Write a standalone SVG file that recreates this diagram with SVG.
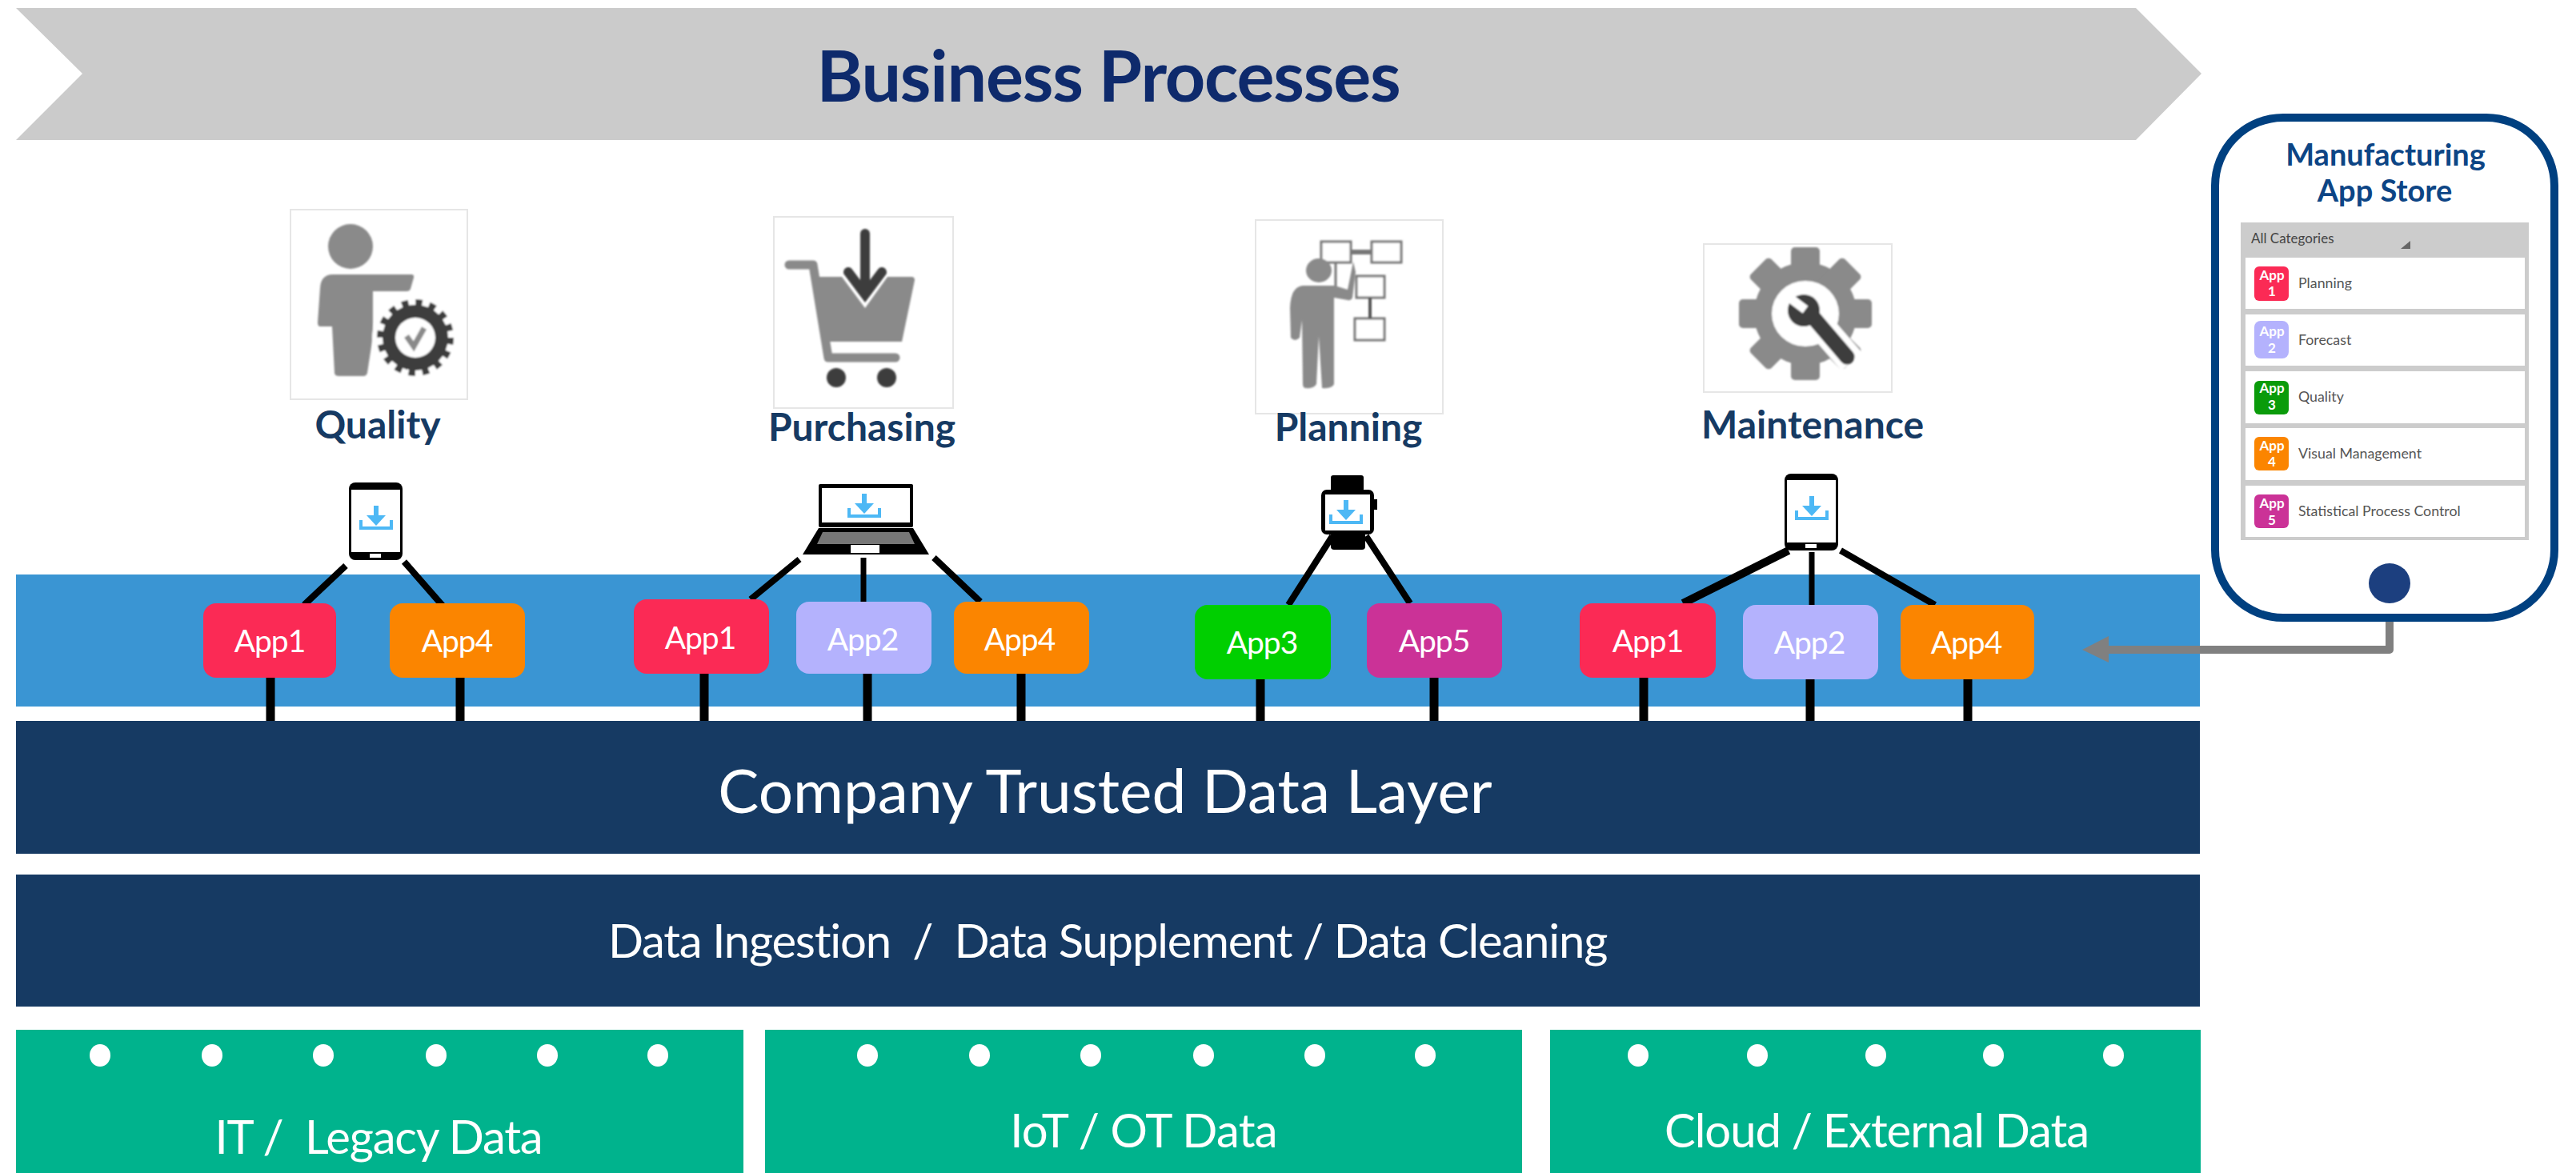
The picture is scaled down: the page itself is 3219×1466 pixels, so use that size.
<svg xmlns="http://www.w3.org/2000/svg" xmlns:xlink="http://www.w3.org/1999/xlink" width="3219" height="1466" viewBox="0 0 3219 1466">
<style>
text{font-family:Lato,"Open Sans","Liberation Sans",sans-serif}
.c{text-anchor:middle}
.band{fill:#163a63}
.green{fill:#00b38d}
.dot{fill:#fff}
.wt{fill:#fff}
.lbl{font-size:48px;font-weight:700;fill:#163a63;text-anchor:middle}
.card{fill:#fff;stroke:#e6e6e6;stroke-width:2}
.g{fill:#8a8a8a}
.d{fill:#3d3d3d}
.app{font-size:39px;letter-spacing:-1px;fill:#fff;text-anchor:middle}
.conn{stroke:#000;fill:none}
.row{fill:#fff}
.ri{font-size:17px;font-weight:700;fill:#fff;text-anchor:middle}
.rl{font-size:17.8px;fill:#555}
.box{fill:#fff;stroke:#777;stroke-width:3}
.dev{fill:#000}
</style>
<defs>
<filter id="soft" x="-5%" y="-5%" width="110%" height="110%"><feGaussianBlur stdDeviation="0.9"/></filter>
<g id="dl">
<path d="M21 0V22" stroke="#4db8f5" stroke-width="6" fill="none"/>
<path d="M9 12L21 25L33 12Z" fill="#4db8f5"/>
<path d="M2 18V28H40V18" stroke="#4db8f5" stroke-width="4" fill="none"/>
</g>
</defs>
<rect width="3219" height="1466" fill="#fff"/>

<g id="business-processes">
<polygon points="20,10 2669,10 2751,92 2669,175 20,175 103,92" fill="#cbcbcb"/>
<text x="1385" y="127" class="c" font-size="88" font-weight="700" fill="#0e2a6c" letter-spacing="-1.2">Business Processes</text>
</g>

<g id="app-layer"><rect x="20" y="718" width="2729" height="165" fill="#3a95d3"/></g>
<g id="trusted-data-layer"><rect class="band" x="20" y="901" width="2729" height="166"/>
<text x="1381" y="1016" class="c wt" font-size="76.5">Company Trusted Data Layer</text></g>
<g id="data-ingestion"><rect class="band" x="20" y="1093" width="2729" height="165"/>
<text x="1384" y="1197" class="c wt" font-size="58" letter-spacing="-1.2" xml:space="preserve">Data Ingestion  /  Data Supplement / Data Cleaning</text></g>

<g id="it-legacy"><rect class="green" x="20" y="1287" width="909" height="179"/>
<ellipse class="dot" cx="125" cy="1319" rx="13" ry="14"/><ellipse class="dot" cx="265" cy="1319" rx="13" ry="14"/><ellipse class="dot" cx="404" cy="1319" rx="13" ry="14"/><ellipse class="dot" cx="545" cy="1319" rx="13" ry="14"/><ellipse class="dot" cx="684" cy="1319" rx="13" ry="14"/><ellipse class="dot" cx="822" cy="1319" rx="13" ry="14"/>
<text x="473" y="1442" class="c wt" font-size="58" letter-spacing="-1.2" xml:space="preserve">IT /  Legacy Data</text></g>
<g id="iot-ot"><rect class="green" x="956" y="1287" width="946" height="179"/>
<ellipse class="dot" cx="1084" cy="1319" rx="13" ry="14"/><ellipse class="dot" cx="1224" cy="1319" rx="13" ry="14"/><ellipse class="dot" cx="1363" cy="1319" rx="13" ry="14"/><ellipse class="dot" cx="1504" cy="1319" rx="13" ry="14"/><ellipse class="dot" cx="1643" cy="1319" rx="13" ry="14"/><ellipse class="dot" cx="1781" cy="1319" rx="13" ry="14"/>
<text x="1429" y="1434" class="c wt" font-size="58" letter-spacing="-0.7">IoT / OT Data</text></g>
<g id="cloud-external"><rect class="green" x="1937" y="1287" width="813" height="179"/>
<ellipse class="dot" cx="2047" cy="1319" rx="13" ry="14"/><ellipse class="dot" cx="2196" cy="1319" rx="13" ry="14"/><ellipse class="dot" cx="2344" cy="1319" rx="13" ry="14"/><ellipse class="dot" cx="2491" cy="1319" rx="13" ry="14"/><ellipse class="dot" cx="2641" cy="1319" rx="13" ry="14"/>
<text x="2345" y="1434" class="c wt" font-size="58" letter-spacing="-1.05">Cloud / External Data</text></g>

<g id="connectors">
<g class="conn" stroke-width="11">
<path d="M338 847V901M575 847V901M880 842V901M1084 842V901M1276 842V901M1575 849V901M1792 847V901M2054 847V901M2262 849V901M2459 849V901"/>
</g>
<g class="conn" stroke-width="8">
<path d="M432 707L380 756M505 702L554 758M999 699L938 749M1167 697L1225 752M1665 670L1610 756M1707 670L1762 754M2300 688L2418 756"/>
<path d="M2235 688L2103 754" stroke-width="10"/>
<path d="M1079 697V752M2264 690V756" stroke-width="7"/>
</g>
<path d="M2986 777V812H2630" fill="none" stroke="#808080" stroke-width="10" stroke-linejoin="round"/>
<polygon points="2602,812 2635,795 2635,828" fill="#808080"/>
</g>

<g id="quality">
<rect class="card" x="363" y="262" width="221" height="237"/>
<g filter="url(#soft)">
<ellipse class="g" cx="438" cy="308" rx="28" ry="28"/>
<path class="g" d="M416 343H514Q518 343 517 347L513 361Q512 364 508 364H466V420L459 466Q458 470 454 470H424Q418 470 418 466L415 408H400Q397 408 397 403L400 360Q401 343 416 343Z"/>
<circle cx="519" cy="422" r="54" fill="#fff"/>
<circle class="d" cx="519" cy="422" r="41"/>
<circle cx="519" cy="422" r="42" fill="none" stroke="#3d3d3d" stroke-width="12" stroke-dasharray="8 8.49"/>
<circle cx="519" cy="422" r="25" fill="#fff"/>
<path d="M508 420L517 433L530 410" fill="none" stroke="#8a8a8a" stroke-width="7"/>
</g>
<text class="lbl" x="472" y="548">Quality</text>
</g>

<g id="purchasing">
<rect class="card" x="967" y="271" width="224" height="239"/>
<g filter="url(#soft)">
<path class="g" d="M1015 346H1052L1081 385L1109 346H1139Q1143 346 1143 350L1127 427H1030Z"/>
<path d="M986 331H1016L1035 447H1119" fill="none" stroke="#8a8a8a" stroke-width="11" stroke-linejoin="round" stroke-linecap="round"/>
<path d="M1081 292V362" stroke="#3d3d3d" stroke-width="12" stroke-linecap="round"/>
<path d="M1060 340L1081 368L1102 340" stroke="#3d3d3d" stroke-width="12" fill="none" stroke-linecap="round"/>
<ellipse class="d" cx="1045" cy="472" rx="12" ry="12"/>
<ellipse class="d" cx="1108" cy="472" rx="12" ry="12"/>
</g>
<text class="lbl" x="1077" y="551">Purchasing</text>
</g>

<g id="planning">
<rect class="card" x="1569" y="275" width="234" height="242"/>
<g filter="url(#soft)">
<rect class="box" x="1651" y="302" width="37" height="26"/>
<rect class="box" x="1714" y="302" width="37" height="26"/>
<rect class="box" x="1695" y="345" width="35" height="27"/>
<rect class="box" x="1693" y="398" width="37" height="27"/>
<path d="M1688 315H1714" stroke="#777" stroke-width="6"/>
<path d="M1669 328V360" stroke="#777" stroke-width="3" fill="none"/>
<path d="M1712 372V398" stroke="#555" stroke-width="4"/>
<ellipse class="g" cx="1648" cy="338" rx="16" ry="15"/>
<path class="g" d="M1628 357H1668L1684 362L1691 327L1694 340L1690 372Q1688 376 1684 375L1667 372V480Q1665 486 1652 485L1648 420L1645 480Q1642 486 1632 485Q1628 485 1628 480L1627 400L1624 422Q1618 428 1613 422L1612 385Q1613 358 1628 357Z"/>
</g>
<text class="lbl" x="1685" y="551">Planning</text>
</g>

<g id="maintenance">
<rect class="card" x="2129" y="305" width="235" height="185"/>
<g filter="url(#soft)">
<g class="g">
<circle cx="2256" cy="392" r="64"/>
<g id="teeth">
<rect x="2238" y="309" width="36" height="166" rx="5"/>
<rect x="2238" y="309" width="36" height="166" rx="5" transform="rotate(45 2256 392)"/>
<rect x="2238" y="309" width="36" height="166" rx="5" transform="rotate(90 2256 392)"/>
<rect x="2238" y="309" width="36" height="166" rx="5" transform="rotate(135 2256 392)"/>
</g>
</g>
<ellipse cx="2256" cy="392" rx="42" ry="41" fill="#fff"/>
<path d="M2262 392L2314 452" stroke="#fff" stroke-width="34"/>
<path d="M2262 392L2308 446" stroke="#3d3d3d" stroke-width="19" stroke-linecap="round"/>
<circle class="d" cx="2254" cy="388" r="20"/>
<path d="M2236 372L2256 387" stroke="#fff" stroke-width="11" stroke-linecap="butt"/>
</g>
<text class="lbl" x="2265" y="548">Maintenance</text>
</g>

<g id="device-phone-1">
<rect class="dev" x="436" y="603" width="67" height="97" rx="8"/>
<rect x="439" y="612" width="61" height="78" fill="#fff"/>
<rect x="462" y="692" width="14" height="5" fill="#fff"/>
<use xlink:href="#dl" href="#dl" transform="translate(449 632)"/>
</g>
<g id="device-laptop">
<rect class="dev" x="1023" y="605" width="118" height="54" rx="2"/>
<rect x="1027" y="610" width="110" height="43" fill="#fff"/>
<polygon class="dev" points="1023,660 1141,660 1161,693 1003,693"/>
<polygon points="1028,665 1136,665 1143,680 1021,680" fill="#777"/>
<rect x="1063" y="681" width="36" height="10" fill="#fff"/>
<use xlink:href="#dl" href="#dl" transform="translate(1059 617)"/>
</g>
<g id="device-watch">
<rect class="dev" x="1663" y="594" width="41" height="20" rx="3"/>
<rect class="dev" x="1663" y="665" width="43" height="22" rx="4"/>
<rect class="dev" x="1717" y="624" width="4" height="13"/>
<rect class="dev" x="1651" y="612" width="66" height="56" rx="7"/>
<rect x="1656" y="618" width="56" height="45" fill="#fff"/>
<use xlink:href="#dl" href="#dl" transform="translate(1661 625)"/>
</g>
<g id="device-phone-2">
<rect class="dev" x="2230" y="592" width="67" height="96" rx="8"/>
<rect x="2233" y="600" width="61" height="78" fill="#fff"/>
<rect x="2256" y="680" width="14" height="5" fill="#fff"/>
<use xlink:href="#dl" href="#dl" transform="translate(2243 620)"/>
</g>

<g id="app1-a"><rect x="254" y="754" width="166" height="93" rx="16" fill="#fb2a55"/><text class="app" x="337" y="815">App1</text></g>
<g id="app4-a"><rect x="487" y="754" width="169" height="93" rx="16" fill="#fb8500"/><text class="app" x="571" y="815">App4</text></g>
<g id="app1-b"><rect x="792" y="749" width="169" height="93" rx="16" fill="#fb2a55"/><text class="app" x="875" y="811">App1</text></g>
<g id="app2-b"><rect x="995" y="752" width="169" height="90" rx="16" fill="#b4b2fd"/><text class="app" x="1078" y="813">App2</text></g>
<g id="app4-b"><rect x="1192" y="752" width="169" height="90" rx="16" fill="#fb8500"/><text class="app" x="1274" y="813">App4</text></g>
<g id="app3-c"><rect x="1493" y="756" width="170" height="93" rx="16" fill="#00cf00"/><text class="app" x="1577" y="817">App3</text></g>
<g id="app5-c"><rect x="1708" y="754" width="169" height="93" rx="16" fill="#cb3297"/><text class="app" x="1792" y="815">App5</text></g>
<g id="app1-d"><rect x="1974" y="754" width="170" height="93" rx="16" fill="#fb2a55"/><text class="app" x="2059" y="815">App1</text></g>
<g id="app2-d"><rect x="2178" y="756" width="169" height="93" rx="16" fill="#b4b2fd"/><text class="app" x="2261" y="817">App2</text></g>
<g id="app4-d"><rect x="2375" y="756" width="167" height="93" rx="16" fill="#fb8500"/><text class="app" x="2457" y="817">App4</text></g>

<g id="app-store">
<rect x="2768" y="147" width="424" height="625" rx="85" fill="#fff" stroke="#004080" stroke-width="10"/>
<text x="2981" y="207" class="c" font-size="38" font-weight="700" fill="#0d4585">Manufacturing</text>
<text x="2980" y="252" class="c" font-size="38" font-weight="700" fill="#0d4585">App Store</text>
<rect x="2800" y="278" width="360" height="397" fill="#ccc"/>
<text x="2813" y="304" font-size="17" fill="#444">All Categories</text>
<polygon points="3012,301 3012,311 3000,311" fill="#666"/>
<rect class="row" x="2806" y="322" width="349" height="64"/>
<rect class="row" x="2806" y="393" width="349" height="64"/>
<rect class="row" x="2806" y="464" width="349" height="65"/>
<rect class="row" x="2806" y="535" width="349" height="65"/>
<rect class="row" x="2806" y="607" width="349" height="64"/>
<rect x="2817" y="333" width="43" height="43" rx="6" fill="#fb2a55"/>
<text class="ri" x="2839" y="350">App</text><text class="ri" x="2839" y="370">1</text>
<text class="rl" x="2872" y="360">Planning</text>
<rect x="2817" y="401" width="43" height="47" rx="8" fill="#b4b2fd"/>
<text class="ri" x="2839" y="420">App</text><text class="ri" x="2839" y="441">2</text>
<text class="rl" x="2872" y="431">Forecast</text>
<rect x="2817" y="476" width="43" height="42" rx="6" fill="#0a9b0a"/>
<text class="ri" x="2839" y="491">App</text><text class="ri" x="2839" y="512">3</text>
<text class="rl" x="2872" y="502">Quality</text>
<rect x="2817" y="546" width="43" height="42" rx="6" fill="#fb8500"/>
<text class="ri" x="2839" y="563">App</text><text class="ri" x="2839" y="583">4</text>
<text class="rl" x="2872" y="573">Visual Management</text>
<rect x="2817" y="618" width="43" height="42" rx="6" fill="#cb3297"/>
<text class="ri" x="2839" y="635">App</text><text class="ri" x="2839" y="656">5</text>
<text class="rl" x="2872" y="645">Statistical Process Control</text>
<ellipse cx="2986" cy="729" rx="26" ry="25" fill="#1c3f7f"/>
</g>
</svg>
